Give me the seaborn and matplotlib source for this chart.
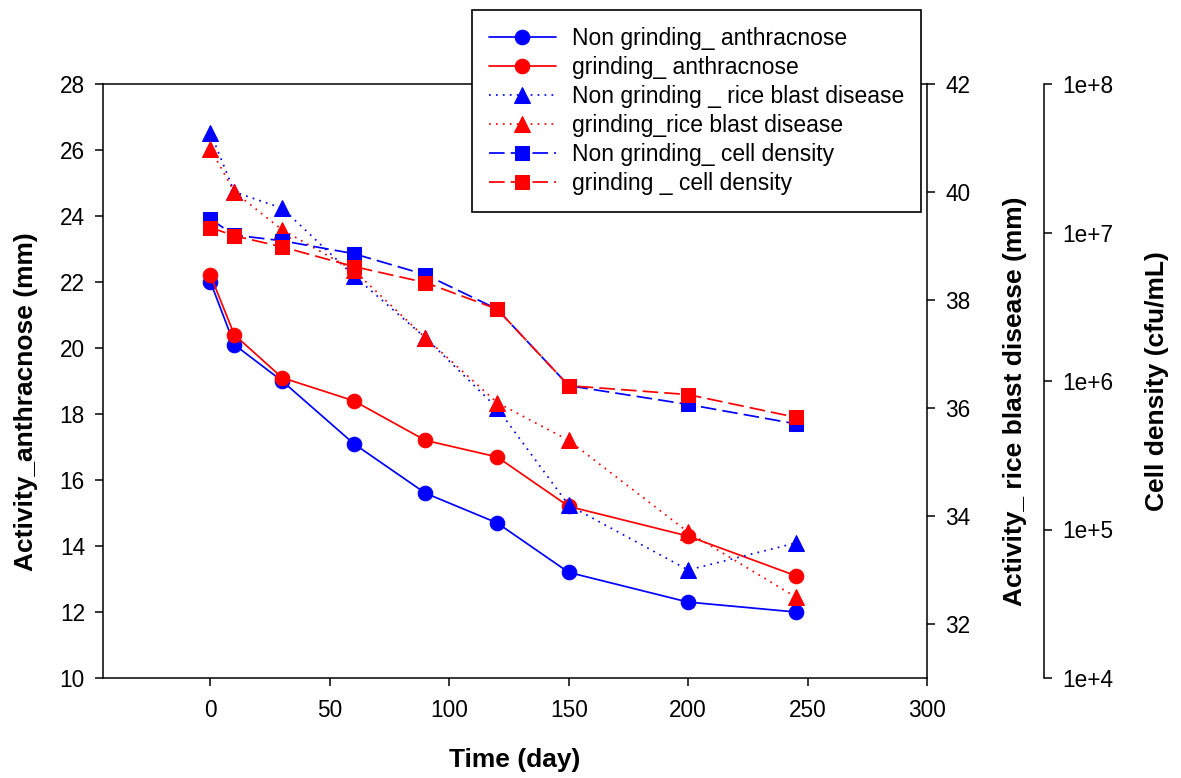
import matplotlib
matplotlib.use("Agg")
import matplotlib.pyplot as plt
import seaborn as sns
from matplotlib.ticker import FixedLocator, NullLocator, FixedFormatter

# ---------------- data ----------------
time_days = [0, 10, 30, 60, 90, 120, 150, 200, 245]

anth_non_grinding = [22.0, 20.1, 19.0, 17.1, 15.6, 14.7, 13.2, 12.3, 12.0]
anth_grinding = [22.2, 20.4, 19.1, 18.4, 17.2, 16.7, 15.2, 14.3, 13.1]

blast_non_grinding = [41.1, 40.0, 39.7, 38.45, 37.3, 36.0, 34.2, 33.0, 33.5]
blast_grinding = [40.8, 40.0, 39.3, 38.55, 37.3, 36.1, 35.4, 33.7, 32.5]

cell_non_grinding = [1.23e7, 9.6e6, 8.8e6, 7.2e6, 5.2e6, 3.05e6, 9.3e5, 6.95e5, 5.15e5]
cell_grinding = [1.08e7, 9.5e6, 8.0e6, 5.9e6, 4.6e6, 3.05e6, 9.3e5, 8.1e5, 5.7e5]

labels = [
    "Non grinding_ anthracnose",
    "grinding_ anthracnose",
    "Non grinding _ rice blast disease",
    "grinding_rice blast disease",
    "Non grinding_ cell density",
    "grinding _ cell density",
]

x_ticks = [0, 50, 100, 150, 200, 250, 300]
left_ticks = [10, 12, 14, 16, 18, 20, 22, 24, 26, 28]
mid_ticks = [32, 34, 36, 38, 40, 42]
cell_ticks = [1e4, 1e5, 1e6, 1e7, 1e8]
cell_tick_labels = ["1e+4", "1e+5", "1e+6", "1e+7", "1e+8"]

# ---------------- style ----------------
sns.set_theme(style="ticks")
plt.rcParams["font.family"] = ["Liberation Sans", "DejaVu Sans"]
plt.rcParams["axes.linewidth"] = 1.1
plt.rcParams["text.color"] = "black"
plt.rcParams["axes.labelcolor"] = "black"
plt.rcParams["xtick.color"] = "black"
plt.rcParams["ytick.color"] = "black"

BLUE = "#0000ff"
RED = "#ff0000"
TICK_FS = 16.3
LABEL_FS = 19

fig = plt.figure(figsize=(11.81, 7.78), dpi=100)
ax1 = fig.add_axes([103 / 1181, 1 - 678 / 778, (927 - 103) / 1181, (678 - 84) / 778])
ax2 = ax1.twinx()
ax3 = ax1.twinx()

lw = 1.25
dotted = (0, (1, 3))
dashed = (0, (9, 3.5))

h1 = sns.lineplot(x=time_days, y=anth_non_grinding, ax=ax1, color=BLUE, marker="o",
                  markersize=10.5, markeredgecolor=BLUE, linewidth=lw, label=labels[0]).lines[-1]
h2 = sns.lineplot(x=time_days, y=anth_grinding, ax=ax1, color=RED, marker="o",
                  markersize=10.5, markeredgecolor=RED, linewidth=lw, label=labels[1]).lines[-1]
h3 = sns.lineplot(x=time_days, y=blast_non_grinding, ax=ax2, color=BLUE, marker="^",
                  markersize=11, markeredgecolor=BLUE, linewidth=lw, linestyle=dotted,
                  label=labels[2]).lines[-1]
h4 = sns.lineplot(x=time_days, y=blast_grinding, ax=ax2, color=RED, marker="^",
                  markersize=11, markeredgecolor=RED, linewidth=lw, linestyle=dotted,
                  label=labels[3]).lines[-1]
h5 = sns.lineplot(x=time_days, y=cell_non_grinding, ax=ax3, color=BLUE, marker="s",
                  markersize=9.5, markeredgecolor=BLUE, linewidth=lw, linestyle=dashed,
                  label=labels[4]).lines[-1]
h6 = sns.lineplot(x=time_days, y=cell_grinding, ax=ax3, color=RED, marker="s",
                  markersize=9.5, markeredgecolor=RED, linewidth=lw, linestyle=dashed,
                  label=labels[5]).lines[-1]

for ax in (ax1, ax2, ax3):
    lg = ax.get_legend()
    if lg is not None:
        lg.remove()

# ---------------- axes ----------------
ax1.set_xlim(-45, 300)
ax1.set_ylim(10, 28)
ax1.xaxis.set_major_locator(FixedLocator(x_ticks))
ax1.yaxis.set_major_locator(FixedLocator(left_ticks))
ax1.spines["right"].set_visible(False)
ax1.spines["top"].set_visible(True)

ax2.set_ylim(31, 42)
ax2.yaxis.set_major_locator(FixedLocator(mid_ticks))
for s in ("left", "top", "bottom"):
    ax2.spines[s].set_visible(False)

ax3.set_yscale("log")
ax3.set_ylim(1e4, 1e8)
ax3.yaxis.set_major_locator(FixedLocator(cell_ticks))
ax3.yaxis.set_major_formatter(FixedFormatter(cell_tick_labels))
ax3.yaxis.set_minor_locator(NullLocator())
ax3.spines["right"].set_position(("axes", (1044 - 103) / (927 - 103)))
for s in ("left", "top", "bottom"):
    ax3.spines[s].set_visible(False)

for ax in (ax1, ax2, ax3):
    for sp in ax.spines.values():
        sp.set_linewidth(1.1)
        sp.set_color("black")
    ax.tick_params(axis="both", which="major", direction="out", length=6, width=1.1,
                   labelsize=TICK_FS, colors="black", pad=7)

ax1.tick_params(axis="x", pad=9)

ax1.set_xlabel("Time (day)", fontsize=LABEL_FS, fontweight="bold", color="black")
ax1.xaxis.set_label_coords(0.5, -0.118)
ax1.set_ylabel("Activity_anthracnose (mm)", fontsize=LABEL_FS, fontweight="bold", color="black")
ax1.yaxis.set_label_coords((38 - 103) / 824, 0.466)
ax2.set_ylabel("Activity_ rice blast disease (mm)", fontsize=LABEL_FS, fontweight="bold", color="black")
ax2.yaxis.set_label_coords((1003 - 103) / 824, 0.466)
ax3.set_ylabel("Cell density (cfu/mL)", fontsize=LABEL_FS, fontweight="bold", color="black")
ax3.yaxis.set_label_coords((1145 - 103) / 824, 0.5)

# ---------------- legend ----------------
leg = fig.legend([h1, h2, h3, h4, h5, h6], labels, loc="upper left",
                 bbox_to_anchor=(472 / 1181, 1 - 10 / 778), frameon=True, fancybox=False,
                 edgecolor="black", framealpha=1, fontsize=16.5, handlelength=2.9,
                 handletextpad=0.7, borderpad=0.75, labelspacing=0.26, borderaxespad=0)
leg.get_frame().set_linewidth(1.2)
for t in leg.get_texts():
    t.set_color("black")

fig.savefig("out.png", dpi=100)
